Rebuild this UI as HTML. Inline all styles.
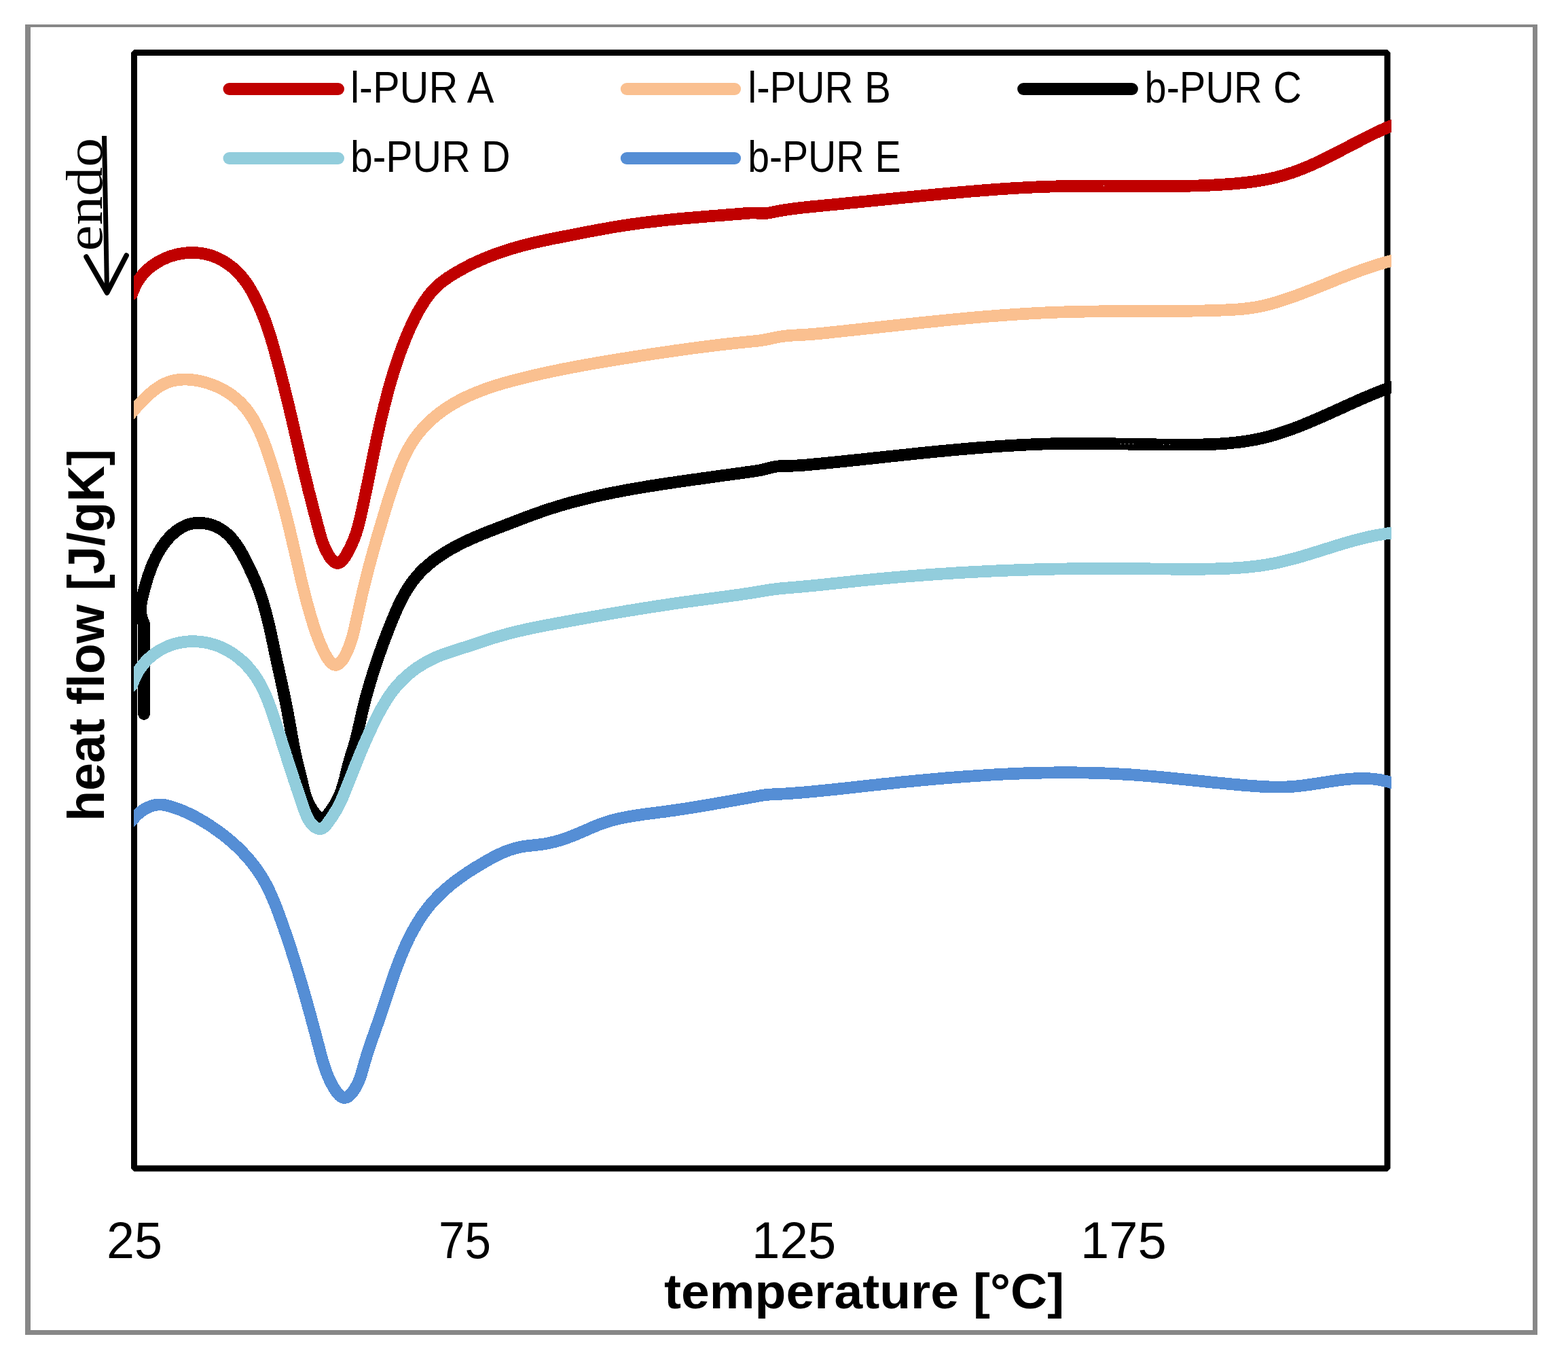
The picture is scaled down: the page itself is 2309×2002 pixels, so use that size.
<!DOCTYPE html>
<html><head><meta charset="utf-8"><title>DSC heat flow chart</title>
<style>
html,body{margin:0;padding:0;background:#fff;}
svg{display:block;}
text{font-family:'Liberation Sans', Arial, sans-serif;fill:#000;}
</style></head>
<body>
<svg xmlns="http://www.w3.org/2000/svg" width="2309" height="2002" viewBox="0 0 2309 2002">
<rect x="0" y="0" width="2309" height="2002" fill="#fff"/>
<g fill="#878787">
<rect x="37" y="36" width="2227" height="4"/>
<rect x="37" y="36" width="8" height="1929"/>
<rect x="2257" y="36" width="7" height="1929"/>
<rect x="37" y="1958" width="2227" height="7"/>
</g>
<rect x="197.5" y="77.5" width="1845.5" height="1642.5" fill="none" stroke="#000" stroke-width="9" stroke-linejoin="bevel"/>
<defs><clipPath id="plot"><rect x="197" y="60" width="1852" height="1680"/></clipPath></defs>
<g clip-path="url(#plot)" shape-rendering="crispEdges" fill="none" stroke-width="17.7" stroke-linejoin="round" stroke-linecap="round">
<path d="M193.9 433.4 L197.0 426.0 198.2 423.2 199.5 420.4 200.9 417.7 202.4 415.1 204.0 412.5 205.7 410.1 207.4 407.7 209.3 405.3 211.2 403.0 213.3 400.9 215.4 398.7 217.6 396.7 219.8 394.7 222.1 392.8 224.5 391.0 227.0 389.3 229.5 387.6 232.1 386.0 234.7 384.5 237.3 383.1 240.0 381.7 242.8 380.5 245.6 379.3 248.4 378.2 251.3 377.2 254.2 376.3 257.1 375.4 260.0 374.7 263.0 374.0 266.0 373.5 269.0 373.0 272.0 372.6 275.0 372.3 278.0 372.1 281.0 372.0 284.0 372.0 287.0 372.0 290.0 372.2 293.0 372.5 296.0 372.8 298.9 373.3 301.9 373.8 304.8 374.5 307.7 375.3 310.5 376.1 313.3 377.1 316.1 378.1 318.9 379.3 321.6 380.5 324.2 381.8 326.9 383.2 329.4 384.7 332.0 386.3 334.5 387.9 336.9 389.7 339.3 391.5 341.7 393.3 344.0 395.3 346.2 397.3 348.4 399.3 350.6 401.5 352.6 403.6 354.7 405.9 356.6 408.2 358.5 410.5 360.3 412.9 362.1 415.3 363.8 417.8 365.5 420.3 367.1 422.9 368.6 425.5 370.2 428.1 371.6 430.7 373.1 433.3 374.5 436.0 375.8 438.7 377.2 441.4 378.5 444.1 379.7 446.8 381.0 449.5 382.2 452.2 383.4 455.0 384.6 457.7 385.8 460.4 386.9 463.2 388.0 466.0 389.1 468.7 390.2 471.5 391.2 474.3 392.2 477.1 393.2 479.9 394.2 482.7 395.2 485.6 396.1 488.4 397.0 491.3 397.9 494.1 398.8 497.0 399.7 499.9 400.5 502.8 401.3 505.7 402.2 508.6 403.0 511.4 403.8 514.3 404.6 517.2 405.4 520.2 406.2 523.1 407.0 526.0 407.8 528.9 408.6 531.8 409.4 534.7 410.1 537.6 410.9 540.5 411.7 543.4 412.4 546.3 413.2 549.2 414.0 552.1 414.7 555.0 415.5 557.9 416.2 560.8 416.9 563.7 417.7 566.6 418.4 569.5 419.1 572.4 419.8 575.3 420.5 578.2 421.3 581.2 422.0 584.1 422.7 587.0 423.4 589.9 424.1 592.8 424.8 595.7 425.5 598.6 426.2 601.5 426.8 604.4 427.5 607.3 428.2 610.3 428.9 613.2 429.6 616.1 430.3 619.0 430.9 621.9 431.6 624.8 432.3 627.7 433.0 630.7 433.6 633.6 434.3 636.5 435.0 639.4 435.7 642.3 436.3 645.2 437.0 648.2 437.7 651.1 438.4 654.0 439.0 656.9 439.7 659.8 440.4 662.8 441.1 665.7 441.7 668.6 442.4 671.5 443.1 674.4 443.8 677.4 444.5 680.3 445.2 683.2 445.8 686.1 446.5 689.1 447.2 692.0 447.9 694.9 448.6 697.8 449.3 700.8 450.0 703.7 450.7 706.6 451.4 709.5 452.2 712.5 452.9 715.4 453.6 718.3 454.3 721.2 455.0 724.2 455.8 727.1 456.5 730.0 457.3 733.0 458.0 735.9 458.8 738.8 459.5 741.7 460.3 744.6 461.0 747.6 461.8 750.5 462.5 753.4 463.3 756.3 464.1 759.1 464.8 762.0 465.6 764.9 466.3 767.7 467.1 770.6 467.8 773.4 468.6 776.2 469.3 779.0 470.1 781.8 470.8 784.6 471.6 787.3 472.4 790.1 473.3 792.9 474.2 795.8 475.2 798.7 476.4 801.7 477.6 804.7 479.0 807.9 480.6 811.1 482.3 814.3 484.1 817.5 486.0 820.4 487.9 823.1 490.0 825.4 492.1 827.2 494.2 828.4 496.4 829.0 498.5 828.8 500.6 827.9 502.7 826.4 504.7 824.3 506.7 821.8 508.6 819.0 510.5 816.0 512.2 812.8 513.9 809.6 515.5 806.5 516.9 803.5 518.3 800.5 519.5 797.7 520.7 794.9 521.8 792.2 522.8 789.5 523.8 786.8 524.7 784.1 525.5 781.4 526.4 778.6 527.2 775.8 527.9 772.9 528.7 770.1 529.4 767.2 530.1 764.2 530.8 761.3 531.4 758.3 532.1 755.4 532.8 752.4 533.4 749.5 534.0 746.5 534.7 743.5 535.3 740.6 535.9 737.7 536.6 734.7 537.2 731.8 537.8 728.8 538.4 725.9 539.0 723.0 539.6 720.0 540.2 717.1 540.8 714.2 541.4 711.2 542.0 708.3 542.6 705.4 543.2 702.4 543.8 699.5 544.4 696.6 545.0 693.6 545.6 690.7 546.2 687.8 546.7 684.9 547.3 681.9 547.9 679.0 548.5 676.1 549.1 673.1 549.7 670.2 550.3 667.3 550.9 664.3 551.5 661.4 552.2 658.5 552.8 655.5 553.4 652.6 554.0 649.7 554.6 646.7 555.3 643.8 555.9 640.9 556.5 637.9 557.2 635.0 557.8 632.0 558.5 629.1 559.1 626.2 559.8 623.2 560.5 620.3 561.1 617.4 561.8 614.5 562.5 611.5 563.2 608.6 563.9 605.7 564.6 602.8 565.3 599.8 566.0 596.9 566.8 594.0 567.5 591.1 568.3 588.2 569.0 585.3 569.8 582.4 570.6 579.4 571.3 576.5 572.1 573.6 572.9 570.8 573.7 567.9 574.6 565.0 575.4 562.1 576.2 559.2 577.1 556.3 577.9 553.5 578.8 550.6 579.7 547.7 580.6 544.9 581.5 542.0 582.4 539.1 583.4 536.3 584.3 533.5 585.3 530.6 586.2 527.8 587.2 525.0 588.2 522.1 589.2 519.3 590.2 516.5 591.3 513.7 592.3 510.9 593.4 508.1 594.5 505.3 595.6 502.5 596.7 499.7 597.8 497.0 598.9 494.2 600.1 491.5 601.2 488.7 602.4 486.0 603.6 483.2 604.9 480.5 606.1 477.8 607.4 475.1 608.7 472.4 610.0 469.7 611.4 467.0 612.8 464.4 614.2 461.7 615.6 459.1 617.1 456.5 618.6 453.9 620.2 451.3 621.8 448.7 623.4 446.2 625.0 443.6 626.7 441.1 628.5 438.6 630.3 436.2 632.1 433.8 634.0 431.4 636.0 429.1 638.0 426.9 640.1 424.7 642.2 422.6 644.4 420.5 646.6 418.5 648.9 416.6 651.3 414.8 653.6 413.0 656.1 411.2 658.5 409.5 661.0 407.8 663.5 406.2 666.1 404.6 668.6 403.0 671.2 401.5 673.8 400.0 676.4 398.5 679.0 397.0 681.6 395.6 684.2 394.2 686.9 392.8 689.6 391.4 692.2 390.0 694.9 388.7 697.6 387.4 700.3 386.2 703.1 384.9 705.8 383.7 708.5 382.5 711.3 381.3 714.1 380.1 716.8 379.0 719.6 377.9 722.4 376.8 725.2 375.7 728.1 374.6 730.9 373.6 733.7 372.6 736.5 371.6 739.4 370.6 742.2 369.7 745.1 368.7 748.0 367.8 750.8 366.9 753.7 366.0 756.6 365.2 759.5 364.3 762.4 363.5 765.3 362.7 768.2 361.9 771.1 361.1 774.0 360.4 776.9 359.7 779.8 358.9 782.7 358.2 785.6 357.5 788.5 356.8 791.5 356.2 794.4 355.5 797.3 354.9 800.2 354.3 803.1 353.6 806.1 353.0 809.0 352.4 811.9 351.8 814.9 351.2 817.8 350.6 820.7 350.1 823.7 349.5 826.6 348.9 829.6 348.3 832.5 347.7 835.4 347.2 838.4 346.6 841.3 346.0 844.3 345.4 847.2 344.8 850.1 344.3 853.1 343.7 856.0 343.1 859.0 342.5 861.9 342.0 864.9 341.4 867.8 340.8 870.8 340.3 873.7 339.7 876.7 339.2 879.6 338.6 882.6 338.1 885.5 337.5 888.5 337.0 891.4 336.5 894.4 336.0 897.4 335.4 900.3 334.9 903.3 334.4 906.2 333.9 909.2 333.4 912.2 333.0 915.1 332.5 918.1 332.0 921.1 331.6 924.0 331.1 927.0 330.7 930.0 330.2 932.9 329.8 935.9 329.4 938.9 329.0 941.8 328.6 944.8 328.2 947.8 327.8 950.8 327.4 953.7 327.1 956.7 326.7 959.7 326.4 962.7 326.0 965.7 325.7 968.6 325.3 971.6 325.0 974.6 324.7 977.6 324.4 980.6 324.1 983.5 323.7 986.5 323.4 989.5 323.2 992.5 322.9 995.5 322.6 998.5 322.3 1001.4 322.0 1004.4 321.7 1007.4 321.5 1010.4 321.2 1013.4 320.9 1016.4 320.7 1019.4 320.4 1022.3 320.2 1025.3 319.9 1028.3 319.7 1031.3 319.4 1034.3 319.2 1037.3 318.9 1040.3 318.7 1043.3 318.4 1046.3 318.2 1049.2 318.0 1052.2 317.7 1055.2 317.5 1058.2 317.3 1061.2 317.0 1064.2 316.8 1067.2 316.6 1070.2 316.3 1073.2 316.1 1076.2 315.9 1079.1 315.6 1082.1 315.4 1085.1 315.1 1088.1 314.9 1091.1 314.7 1094.1 314.4 1097.1 314.2 1100.1 313.9 1103.1 313.7 1106.0 313.5 1109.0 313.4 1112.0 313.5 1115.0 313.7 1118.0 314.0 1120.9 314.2 1123.9 314.3 1126.8 314.1 1129.7 313.8 1132.7 313.3 1135.6 312.7 1138.5 312.2 1141.4 311.6 1144.4 311.1 1147.3 310.5 1150.2 310.0 1153.2 309.5 1156.1 309.0 1159.1 308.6 1162.1 308.1 1165.0 307.7 1168.0 307.3 1171.0 306.9 1173.9 306.6 1176.9 306.2 1179.9 305.8 1182.9 305.5 1185.9 305.2 1188.9 304.9 1191.8 304.6 1194.8 304.2 1197.8 303.9 1200.8 303.7 1203.8 303.4 1206.8 303.1 1209.8 302.8 1212.8 302.5 1215.8 302.2 1218.8 301.9 1221.7 301.6 1224.7 301.4 1227.7 301.1 1230.7 300.8 1233.7 300.5 1236.7 300.2 1239.7 299.9 1242.7 299.6 1245.6 299.3 1248.6 299.0 1251.6 298.7 1254.6 298.4 1257.6 298.2 1260.6 297.9 1263.5 297.6 1266.5 297.3 1269.5 297.0 1272.5 296.7 1275.5 296.4 1278.4 296.1 1281.4 295.8 1284.4 295.5 1287.4 295.2 1290.4 294.9 1293.4 294.6 1296.3 294.3 1299.3 294.0 1302.3 293.7 1305.3 293.4 1308.3 293.1 1311.2 292.8 1314.2 292.5 1317.2 292.2 1320.2 291.9 1323.2 291.6 1326.1 291.3 1329.1 291.0 1332.1 290.7 1335.1 290.5 1338.1 290.2 1341.0 289.9 1344.0 289.6 1347.0 289.3 1350.0 289.0 1353.0 288.7 1356.0 288.4 1358.9 288.1 1361.9 287.8 1364.9 287.5 1367.9 287.3 1370.9 287.0 1373.9 286.7 1376.9 286.4 1379.8 286.1 1382.8 285.9 1385.8 285.6 1388.8 285.3 1391.8 285.0 1394.8 284.7 1397.8 284.5 1400.8 284.2 1403.8 283.9 1406.8 283.7 1409.7 283.4 1412.7 283.1 1415.7 282.9 1418.7 282.6 1421.7 282.4 1424.7 282.1 1427.7 281.8 1430.7 281.6 1433.7 281.4 1436.7 281.1 1439.7 280.9 1442.7 280.6 1445.7 280.4 1448.7 280.2 1451.7 279.9 1454.7 279.7 1457.6 279.5 1460.6 279.3 1463.6 279.0 1466.6 278.8 1469.6 278.6 1472.6 278.4 1475.6 278.2 1478.6 278.0 1481.6 277.8 1484.6 277.6 1487.6 277.4 1490.6 277.2 1493.6 277.1 1496.6 276.9 1499.6 276.7 1502.6 276.5 1505.6 276.4 1508.6 276.2 1511.6 276.1 1514.6 275.9 1517.6 275.8 1520.6 275.6 1523.6 275.5 1526.6 275.3 1529.6 275.2 1532.6 275.1 1535.6 275.0 1538.6 274.9 1541.6 274.8 1544.6 274.7 1547.6 274.6 1550.6 274.5 1553.6 274.4 1556.6 274.3 1559.6 274.2 1562.6 274.2 1565.6 274.1 1568.6 274.0 1571.5 274.0 1574.5 273.9 1577.5 273.9 1580.5 273.9 1583.5 273.8 1586.5 273.8 1589.5 273.8 1592.5 273.8 1595.5 273.7 1598.5 273.7 1601.5 273.7 1604.5 273.7 1607.5 273.7 1610.5 273.7 1613.5 273.7 1616.5 273.7 1619.5 273.7 1622.5 273.7 1625.5 273.8 1628.5 273.8 1631.5 273.8 1634.5 273.8 1637.5 273.8 1640.5 273.8 1643.5 273.9 1646.4 273.9 1649.4 273.9 1652.4 273.9 1655.4 273.9 1658.4 274.0 1661.4 274.0 1664.4 274.0 1667.4 274.0 1670.4 274.0 1673.4 274.1 1676.4 274.1 1679.4 274.1 1682.4 274.1 1685.4 274.1 1688.4 274.1 1691.4 274.2 1694.4 274.2 1697.4 274.2 1700.4 274.2 1703.4 274.2 1706.4 274.2 1709.4 274.2 1712.4 274.2 1715.4 274.1 1718.4 274.1 1721.4 274.1 1724.4 274.1 1727.4 274.1 1730.4 274.0 1733.4 274.0 1736.4 274.0 1739.4 273.9 1742.4 273.9 1745.4 273.8 1748.4 273.7 1751.4 273.7 1754.4 273.6 1757.4 273.5 1760.4 273.4 1763.4 273.4 1766.4 273.3 1769.4 273.2 1772.4 273.0 1775.4 272.9 1778.4 272.8 1781.4 272.7 1784.4 272.5 1787.4 272.4 1790.4 272.2 1793.4 272.1 1796.4 271.9 1799.4 271.7 1802.4 271.5 1805.5 271.3 1808.5 271.1 1811.5 270.9 1814.5 270.7 1817.5 270.4 1820.5 270.2 1823.5 269.9 1826.5 269.6 1829.4 269.3 1832.4 269.0 1835.4 268.6 1838.4 268.2 1841.4 267.9 1844.4 267.5 1847.3 267.1 1850.3 266.6 1853.2 266.1 1856.2 265.7 1859.1 265.2 1862.1 264.6 1865.0 264.1 1868.0 263.5 1870.9 262.9 1873.8 262.2 1876.7 261.6 1879.6 260.9 1882.5 260.1 1885.4 259.4 1888.2 258.6 1891.1 257.8 1894.0 256.9 1896.8 256.0 1899.6 255.1 1902.5 254.2 1905.3 253.2 1908.1 252.2 1910.9 251.2 1913.7 250.1 1916.5 249.0 1919.3 247.9 1922.0 246.8 1924.8 245.6 1927.5 244.5 1930.3 243.3 1933.0 242.0 1935.8 240.8 1938.5 239.6 1941.2 238.3 1944.0 237.0 1946.7 235.7 1949.4 234.4 1952.1 233.1 1954.8 231.7 1957.5 230.4 1960.2 229.0 1962.9 227.7 1965.6 226.3 1968.3 224.9 1971.0 223.5 1973.7 222.1 1976.3 220.7 1979.0 219.3 1981.7 217.9 1984.4 216.5 1987.1 215.1 1989.7 213.7 1992.4 212.3 1995.1 210.9 1997.8 209.5 2000.4 208.2 2003.1 206.8 2005.8 205.4 2008.5 204.0 2011.2 202.7 2013.8 201.3 2016.5 200.0 2019.2 198.7 2021.9 197.3 2024.6 196.0 2027.3 194.8 2030.0 193.5 2032.7 192.2 2035.4 191.0 2038.1 189.8 2040.8 188.6 2043.5 187.4 2046.2 186.3 2049.0 185.1 2056.4 182.1" stroke="#C00000"/>
<path d="M191.8 610.0 L197.1 604.0 198.9 601.9 200.8 599.7 202.8 597.6 204.8 595.4 206.8 593.2 208.9 591.0 211.0 588.8 213.2 586.6 215.4 584.5 217.6 582.3 219.9 580.3 222.2 578.3 224.6 576.3 227.0 574.4 229.5 572.6 232.0 570.8 234.5 569.2 237.1 567.6 239.7 566.2 242.4 564.8 245.1 563.6 247.8 562.5 250.6 561.6 253.4 560.8 256.2 560.1 259.1 559.6 262.0 559.2 265.0 558.9 267.9 558.7 270.9 558.6 273.9 558.6 276.9 558.7 279.9 558.9 282.8 559.2 285.8 559.5 288.8 560.0 291.8 560.5 294.8 561.1 297.8 561.8 300.7 562.5 303.7 563.3 306.6 564.2 309.5 565.2 312.3 566.2 315.2 567.3 318.0 568.5 320.8 569.7 323.5 571.0 326.3 572.4 328.9 573.8 331.6 575.3 334.2 576.9 336.7 578.5 339.2 580.2 341.7 581.9 344.1 583.7 346.4 585.6 348.7 587.5 350.9 589.5 353.1 591.5 355.2 593.6 357.2 595.7 359.2 597.9 361.1 600.2 362.9 602.4 364.7 604.8 366.5 607.1 368.1 609.5 369.8 612.0 371.4 614.5 372.9 617.0 374.4 619.5 375.8 622.1 377.2 624.8 378.6 627.4 379.9 630.1 381.2 632.8 382.5 635.5 383.7 638.3 384.9 641.0 386.1 643.8 387.2 646.6 388.3 649.5 389.4 652.3 390.4 655.2 391.5 658.0 392.5 660.9 393.5 663.8 394.5 666.6 395.4 669.5 396.4 672.4 397.3 675.3 398.3 678.2 399.2 681.1 400.1 684.0 401.0 686.8 401.9 689.7 402.8 692.6 403.7 695.5 404.6 698.3 405.4 701.2 406.3 704.1 407.1 707.0 408.0 709.8 408.8 712.7 409.7 715.6 410.5 718.5 411.3 721.3 412.1 724.2 412.9 727.1 413.7 730.0 414.5 732.8 415.3 735.7 416.0 738.6 416.8 741.5 417.6 744.3 418.3 747.2 419.1 750.1 419.8 753.0 420.6 755.9 421.3 758.8 422.0 761.6 422.8 764.5 423.5 767.4 424.2 770.3 424.9 773.2 425.6 776.1 426.3 779.0 427.0 781.9 427.7 784.8 428.4 787.7 429.1 790.6 429.8 793.6 430.5 796.5 431.1 799.4 431.8 802.3 432.5 805.2 433.2 808.2 433.8 811.1 434.5 814.0 435.2 817.0 435.8 819.9 436.5 822.8 437.2 825.8 437.8 828.7 438.5 831.7 439.2 834.6 439.9 837.5 440.6 840.5 441.2 843.4 441.9 846.4 442.6 849.3 443.3 852.2 444.0 855.2 444.7 858.1 445.4 861.1 446.1 864.0 446.9 866.9 447.6 869.9 448.3 872.8 449.1 875.7 449.8 878.7 450.6 881.6 451.3 884.5 452.1 887.4 452.9 890.3 453.7 893.2 454.5 896.1 455.3 898.9 456.1 901.8 456.9 904.6 457.7 907.5 458.6 910.3 459.4 913.1 460.3 915.8 461.1 918.6 462.0 921.3 462.9 924.1 463.8 926.8 464.7 929.5 465.7 932.3 466.7 935.1 467.8 938.0 468.9 940.9 470.1 944.0 471.4 947.1 472.8 950.4 474.3 953.7 475.8 957.1 477.5 960.4 479.2 963.6 480.9 966.7 482.7 969.6 484.6 972.1 486.4 974.4 488.3 976.3 490.3 977.7 492.2 978.6 494.1 979.0 496.1 978.7 498.0 977.9 499.9 976.5 501.8 974.7 503.6 972.5 505.4 969.9 507.1 967.1 508.8 964.0 510.4 960.7 511.9 957.4 513.3 954.0 514.6 950.6 515.9 947.3 516.9 944.0 517.9 940.9 518.8 937.9 519.7 935.0 520.4 932.1 521.1 929.2 521.8 926.4 522.4 923.6 523.0 920.8 523.7 918.0 524.3 915.1 524.9 912.3 525.5 909.4 526.2 906.6 526.8 903.7 527.5 900.8 528.1 897.9 528.7 894.9 529.4 892.0 530.0 889.1 530.7 886.2 531.4 883.2 532.0 880.3 532.7 877.3 533.4 874.4 534.1 871.5 534.8 868.5 535.5 865.6 536.2 862.6 536.9 859.7 537.6 856.8 538.3 853.9 539.1 850.9 539.8 848.0 540.6 845.1 541.3 842.2 542.1 839.3 542.8 836.4 543.6 833.4 544.4 830.5 545.2 827.6 545.9 824.7 546.7 821.8 547.5 818.9 548.3 816.1 549.1 813.2 549.9 810.3 550.8 807.4 551.6 804.5 552.4 801.6 553.2 798.7 554.0 795.9 554.9 793.0 555.7 790.1 556.5 787.2 557.4 784.3 558.2 781.5 559.1 778.6 559.9 775.7 560.8 772.9 561.6 770.0 562.5 767.1 563.3 764.3 564.2 761.4 565.1 758.5 565.9 755.7 566.8 752.8 567.6 750.0 568.5 747.1 569.4 744.2 570.3 741.4 571.1 738.5 572.0 735.7 572.9 732.8 573.8 730.0 574.7 727.1 575.6 724.3 576.6 721.4 577.5 718.6 578.5 715.7 579.4 712.9 580.4 710.1 581.4 707.2 582.4 704.4 583.4 701.6 584.5 698.7 585.5 695.9 586.6 693.1 587.7 690.3 588.8 687.5 589.9 684.7 591.1 681.9 592.3 679.1 593.5 676.4 594.8 673.6 596.1 670.9 597.4 668.2 598.7 665.5 600.1 662.8 601.6 660.2 603.1 657.6 604.6 655.0 606.1 652.4 607.7 649.9 609.4 647.4 611.1 644.9 612.9 642.5 614.7 640.1 616.5 637.8 618.4 635.4 620.4 633.1 622.4 630.9 624.4 628.7 626.4 626.5 628.5 624.4 630.7 622.2 632.9 620.2 635.1 618.1 637.3 616.1 639.6 614.2 641.9 612.3 644.2 610.4 646.6 608.5 649.0 606.7 651.4 605.0 653.8 603.2 656.3 601.5 658.7 599.9 661.3 598.3 663.8 596.7 666.3 595.1 668.9 593.6 671.5 592.2 674.1 590.7 676.7 589.3 679.3 587.9 682.0 586.6 684.7 585.3 687.3 584.0 690.1 582.7 692.8 581.5 695.5 580.3 698.3 579.1 701.0 578.0 703.8 576.9 706.6 575.8 709.4 574.7 712.2 573.7 715.0 572.6 717.8 571.6 720.7 570.7 723.5 569.7 726.4 568.8 729.3 567.8 732.1 566.9 735.0 566.1 737.9 565.2 740.8 564.3 743.7 563.5 746.6 562.7 749.5 561.9 752.4 561.1 755.4 560.3 758.3 559.5 761.2 558.8 764.1 558.0 767.0 557.3 770.0 556.5 772.9 555.8 775.8 555.1 778.7 554.4 781.7 553.7 784.6 553.0 787.5 552.3 790.5 551.7 793.4 551.0 796.3 550.3 799.2 549.7 802.2 549.0 805.1 548.4 808.0 547.8 811.0 547.1 813.9 546.5 816.8 545.9 819.7 545.3 822.7 544.7 825.6 544.1 828.5 543.5 831.5 542.9 834.4 542.4 837.3 541.8 840.3 541.2 843.2 540.7 846.2 540.1 849.1 539.6 852.0 539.0 855.0 538.5 857.9 537.9 860.8 537.4 863.8 536.9 866.7 536.3 869.7 535.8 872.6 535.3 875.6 534.8 878.5 534.3 881.4 533.8 884.4 533.3 887.3 532.8 890.3 532.3 893.2 531.8 896.2 531.3 899.1 530.8 902.1 530.3 905.0 529.9 908.0 529.4 910.9 528.9 913.9 528.4 916.9 527.9 919.8 527.5 922.8 527.0 925.7 526.5 928.7 526.1 931.7 525.6 934.6 525.1 937.6 524.7 940.5 524.2 943.5 523.7 946.5 523.3 949.4 522.8 952.4 522.4 955.4 521.9 958.3 521.5 961.3 521.0 964.3 520.6 967.3 520.1 970.2 519.7 973.2 519.2 976.2 518.8 979.1 518.4 982.1 517.9 985.1 517.5 988.1 517.1 991.0 516.7 994.0 516.2 997.0 515.8 1000.0 515.4 1002.9 515.0 1005.9 514.6 1008.9 514.2 1011.9 513.7 1014.9 513.3 1017.8 512.9 1020.8 512.5 1023.8 512.2 1026.8 511.8 1029.7 511.4 1032.7 511.0 1035.7 510.6 1038.7 510.2 1041.7 509.9 1044.6 509.5 1047.6 509.1 1050.6 508.8 1053.6 508.4 1056.5 508.0 1059.5 507.7 1062.5 507.3 1065.5 507.0 1068.4 506.7 1071.4 506.3 1074.4 506.0 1077.4 505.7 1080.3 505.3 1083.3 505.0 1086.3 504.7 1089.3 504.4 1092.2 504.1 1095.2 503.8 1098.2 503.5 1101.2 503.2 1104.1 502.9 1107.1 502.6 1110.1 502.3 1113.0 502.0 1116.0 501.7 1118.9 501.3 1121.9 500.9 1124.8 500.4 1127.7 499.9 1130.6 499.3 1133.5 498.7 1136.4 498.0 1139.3 497.4 1142.2 496.8 1145.2 496.2 1148.1 495.7 1151.0 495.3 1154.0 494.9 1156.9 494.5 1159.9 494.2 1162.9 494.0 1165.8 493.7 1168.8 493.6 1171.8 493.4 1174.8 493.3 1177.8 493.1 1180.8 493.0 1183.8 492.8 1186.8 492.6 1189.8 492.4 1192.8 492.2 1195.8 492.0 1198.8 491.7 1201.8 491.4 1204.7 491.2 1207.7 490.9 1210.7 490.6 1213.7 490.3 1216.7 490.0 1219.6 489.7 1222.6 489.3 1225.6 489.0 1228.6 488.7 1231.6 488.4 1234.5 488.1 1237.5 487.8 1240.5 487.5 1243.5 487.2 1246.5 486.8 1249.4 486.5 1252.4 486.2 1255.4 485.9 1258.4 485.6 1261.4 485.3 1264.3 484.9 1267.3 484.6 1270.3 484.3 1273.3 484.0 1276.3 483.6 1279.2 483.3 1282.2 483.0 1285.2 482.7 1288.2 482.4 1291.2 482.0 1294.2 481.7 1297.1 481.4 1300.1 481.1 1303.1 480.7 1306.1 480.4 1309.1 480.1 1312.0 479.8 1315.0 479.4 1318.0 479.1 1321.0 478.8 1324.0 478.5 1327.0 478.2 1329.9 477.8 1332.9 477.5 1335.9 477.2 1338.9 476.9 1341.9 476.6 1344.9 476.3 1347.8 475.9 1350.8 475.6 1353.8 475.3 1356.8 475.0 1359.8 474.7 1362.8 474.4 1365.7 474.1 1368.7 473.8 1371.7 473.5 1374.7 473.2 1377.7 472.9 1380.7 472.6 1383.7 472.3 1386.6 472.0 1389.6 471.7 1392.6 471.4 1395.6 471.1 1398.6 470.8 1401.6 470.5 1404.6 470.2 1407.5 469.9 1410.5 469.7 1413.5 469.4 1416.5 469.1 1419.5 468.8 1422.5 468.6 1425.5 468.3 1428.5 468.0 1431.4 467.8 1434.4 467.5 1437.4 467.2 1440.4 467.0 1443.4 466.7 1446.4 466.5 1449.4 466.2 1452.4 466.0 1455.3 465.7 1458.3 465.5 1461.3 465.3 1464.3 465.0 1467.3 464.8 1470.3 464.6 1473.3 464.3 1476.3 464.1 1479.3 463.9 1482.3 463.7 1485.2 463.5 1488.2 463.3 1491.2 463.1 1494.2 462.9 1497.2 462.7 1500.2 462.5 1503.2 462.3 1506.2 462.1 1509.2 461.9 1512.2 461.8 1515.2 461.6 1518.2 461.4 1521.1 461.3 1524.1 461.1 1527.1 460.9 1530.1 460.8 1533.1 460.6 1536.1 460.5 1539.1 460.4 1542.1 460.2 1545.1 460.1 1548.1 460.0 1551.1 459.9 1554.1 459.8 1557.1 459.6 1560.1 459.5 1563.1 459.4 1566.1 459.4 1569.1 459.3 1572.0 459.2 1575.0 459.1 1578.0 459.0 1581.0 458.9 1584.0 458.9 1587.0 458.8 1590.0 458.8 1593.0 458.7 1596.0 458.7 1599.0 458.6 1602.0 458.6 1605.0 458.5 1608.0 458.5 1611.0 458.4 1614.0 458.4 1617.0 458.4 1620.0 458.3 1623.0 458.3 1626.0 458.3 1629.0 458.3 1632.0 458.3 1635.0 458.2 1638.0 458.2 1641.0 458.2 1644.0 458.2 1647.0 458.2 1650.0 458.2 1653.0 458.2 1656.0 458.2 1659.0 458.2 1662.0 458.2 1665.0 458.1 1668.0 458.1 1671.0 458.1 1674.0 458.1 1677.0 458.1 1680.0 458.1 1683.0 458.1 1686.0 458.1 1689.0 458.1 1692.0 458.1 1695.0 458.1 1698.0 458.1 1701.0 458.1 1704.0 458.1 1707.0 458.1 1710.0 458.1 1713.0 458.1 1716.0 458.0 1719.0 458.0 1722.0 458.0 1725.0 458.0 1728.0 458.0 1731.0 458.0 1734.0 457.9 1737.0 457.9 1740.0 457.9 1743.0 457.8 1746.0 457.8 1749.0 457.8 1752.0 457.7 1755.0 457.7 1758.0 457.6 1761.0 457.6 1764.0 457.5 1767.0 457.5 1770.0 457.4 1773.0 457.4 1776.0 457.3 1779.0 457.2 1782.0 457.1 1785.0 457.1 1788.0 457.0 1791.0 456.9 1794.0 456.8 1796.9 456.7 1799.9 456.6 1802.9 456.5 1805.9 456.3 1808.9 456.2 1811.9 456.1 1814.9 455.9 1817.9 455.7 1820.9 455.5 1823.9 455.3 1826.9 455.0 1829.8 454.8 1832.8 454.5 1835.8 454.1 1838.8 453.8 1841.7 453.4 1844.7 452.9 1847.6 452.5 1850.6 452.0 1853.5 451.4 1856.5 450.8 1859.4 450.2 1862.3 449.6 1865.3 448.9 1868.2 448.1 1871.1 447.3 1874.0 446.5 1876.9 445.7 1879.8 444.9 1882.7 444.0 1885.5 443.1 1888.4 442.2 1891.3 441.2 1894.1 440.3 1897.0 439.3 1899.8 438.3 1902.7 437.3 1905.5 436.3 1908.3 435.3 1911.1 434.3 1913.9 433.2 1916.8 432.2 1919.6 431.1 1922.4 430.0 1925.2 428.9 1928.0 427.9 1930.8 426.8 1933.5 425.7 1936.3 424.6 1939.1 423.4 1941.9 422.3 1944.7 421.2 1947.5 420.1 1950.2 419.0 1953.0 417.8 1955.8 416.7 1958.6 415.6 1961.3 414.5 1964.1 413.4 1966.9 412.2 1969.7 411.1 1972.4 410.0 1975.2 408.9 1978.0 407.8 1980.8 406.7 1983.6 405.6 1986.4 404.5 1989.2 403.5 1992.0 402.4 1994.8 401.3 1997.6 400.3 2000.4 399.3 2003.2 398.2 2006.0 397.2 2008.8 396.2 2011.6 395.2 2014.5 394.2 2017.3 393.3 2020.2 392.3 2023.0 391.4 2025.9 390.5 2028.7 389.6 2031.6 388.7 2034.5 387.9 2037.4 387.0 2040.3 386.2 2043.2 385.4 2046.1 384.6 2049.0 383.9 2056.7 381.8" stroke="#FAC090"/>
<path d="M212.0 1051.0 L212.0 918.0 L210.6 915.1 209.5 912.1 208.7 909.2 208.0 906.3 207.5 903.3 207.3 900.4 207.2 897.4 207.2 894.5 207.5 891.5 207.8 888.6 208.2 885.6 208.8 882.7 209.4 879.8 210.1 876.8 210.8 873.9 211.6 871.0 212.4 868.1 213.2 865.2 214.0 862.3 214.8 859.4 215.7 856.5 216.5 853.7 217.4 850.8 218.3 848.0 219.3 845.1 220.3 842.3 221.3 839.5 222.3 836.7 223.4 833.9 224.5 831.2 225.7 828.4 226.9 825.7 228.2 823.0 229.5 820.3 230.9 817.6 232.3 814.9 233.8 812.3 235.4 809.7 237.0 807.1 238.7 804.5 240.5 802.0 242.3 799.5 244.1 797.1 246.1 794.8 248.1 792.5 250.1 790.2 252.3 788.1 254.5 786.0 256.7 784.0 259.0 782.2 261.4 780.4 263.8 778.7 266.3 777.2 268.8 775.8 271.4 774.5 274.1 773.3 276.8 772.3 279.5 771.5 282.4 770.8 285.2 770.2 288.2 769.9 291.1 769.7 294.2 769.7 297.3 769.9 300.3 770.2 303.4 770.7 306.5 771.3 309.6 772.1 312.6 773.1 315.5 774.1 318.4 775.3 321.1 776.7 323.8 778.1 326.3 779.7 328.8 781.3 331.2 783.1 333.4 785.0 335.6 786.9 337.7 788.9 339.8 791.1 341.7 793.3 343.6 795.5 345.4 797.9 347.2 800.2 348.9 802.7 350.6 805.2 352.2 807.7 353.7 810.3 355.2 812.9 356.7 815.6 358.2 818.2 359.6 820.9 361.0 823.6 362.4 826.3 363.7 829.0 365.1 831.7 366.4 834.4 367.7 837.1 369.0 839.8 370.3 842.6 371.6 845.3 372.8 848.0 374.0 850.7 375.2 853.4 376.4 856.2 377.5 858.9 378.6 861.7 379.7 864.5 380.8 867.3 381.8 870.1 382.8 872.9 383.8 875.7 384.7 878.5 385.6 881.4 386.5 884.2 387.4 887.1 388.3 889.9 389.1 892.8 389.9 895.7 390.7 898.5 391.5 901.4 392.3 904.3 393.0 907.2 393.7 910.1 394.5 913.0 395.2 916.0 395.9 918.9 396.5 921.8 397.2 924.7 397.9 927.7 398.5 930.6 399.2 933.5 399.8 936.5 400.4 939.4 401.1 942.4 401.7 945.3 402.3 948.2 402.9 951.2 403.6 954.1 404.2 957.1 404.8 960.0 405.4 963.0 406.1 965.9 406.7 968.8 407.3 971.8 407.9 974.7 408.6 977.6 409.2 980.6 409.9 983.5 410.5 986.4 411.1 989.3 411.8 992.3 412.4 995.2 413.1 998.1 413.7 1001.0 414.4 1004.0 415.0 1006.9 415.6 1009.8 416.3 1012.7 416.9 1015.7 417.5 1018.6 418.1 1021.5 418.7 1024.4 419.3 1027.4 419.9 1030.3 420.5 1033.2 421.1 1036.2 421.7 1039.1 422.3 1042.0 422.9 1045.0 423.4 1047.9 424.0 1050.8 424.5 1053.8 425.1 1056.7 425.6 1059.7 426.1 1062.6 426.6 1065.6 427.2 1068.5 427.7 1071.5 428.2 1074.4 428.7 1077.4 429.3 1080.3 429.8 1083.3 430.3 1086.2 430.9 1089.2 431.4 1092.1 432.0 1095.1 432.5 1098.0 433.1 1101.0 433.7 1103.9 434.3 1106.9 434.9 1109.8 435.6 1112.8 436.2 1115.7 436.9 1118.6 437.6 1121.6 438.3 1124.5 439.0 1127.4 439.7 1130.4 440.5 1133.3 441.2 1136.2 441.9 1139.1 442.6 1141.9 443.3 1144.8 444.0 1147.6 444.7 1150.5 445.3 1153.3 445.9 1156.1 446.6 1158.9 447.3 1161.7 448.0 1164.5 448.8 1167.3 449.6 1170.2 450.6 1173.1 451.7 1176.0 452.9 1179.0 454.3 1182.1 455.9 1185.3 457.6 1188.4 459.5 1191.6 461.5 1194.6 463.7 1197.3 465.9 1199.7 468.2 1201.7 470.5 1203.1 472.8 1204.0 475.1 1204.0 477.4 1203.3 479.7 1201.9 481.8 1199.9 484.0 1197.5 486.0 1194.9 487.9 1192.2 489.8 1189.5 491.5 1186.9 493.1 1184.2 494.7 1181.6 496.1 1178.9 497.5 1176.3 498.8 1173.6 500.0 1170.8 501.1 1168.1 502.2 1165.3 503.2 1162.5 504.1 1159.6 505.0 1156.8 505.8 1153.9 506.6 1151.1 507.4 1148.2 508.2 1145.3 508.9 1142.4 509.6 1139.5 510.3 1136.6 511.1 1133.7 511.8 1130.8 512.5 1127.9 513.2 1125.0 514.0 1122.1 514.8 1119.2 515.6 1116.3 516.5 1113.5 517.4 1110.6 518.3 1107.8 519.2 1104.9 520.2 1102.1 521.1 1099.2 521.9 1096.3 522.7 1093.4 523.5 1090.6 524.3 1087.6 525.0 1084.7 525.7 1081.8 526.4 1078.9 527.1 1076.0 527.8 1073.0 528.4 1070.1 529.1 1067.1 529.8 1064.2 530.4 1061.3 531.1 1058.3 531.7 1055.4 532.4 1052.5 533.1 1049.5 533.8 1046.6 534.5 1043.7 535.2 1040.8 535.9 1037.9 536.7 1035.0 537.4 1032.1 538.2 1029.2 538.9 1026.3 539.7 1023.4 540.5 1020.5 541.3 1017.6 542.1 1014.8 542.9 1011.9 543.8 1009.0 544.6 1006.2 545.5 1003.3 546.3 1000.4 547.2 997.6 548.1 994.7 549.0 991.9 549.9 989.0 550.8 986.2 551.7 983.4 552.6 980.5 553.5 977.7 554.5 974.8 555.4 972.0 556.4 969.2 557.4 966.4 558.4 963.5 559.4 960.7 560.4 957.9 561.4 955.1 562.4 952.3 563.4 949.4 564.4 946.6 565.5 943.8 566.5 941.0 567.6 938.2 568.7 935.4 569.8 932.6 570.8 929.8 571.9 927.0 573.0 924.2 574.1 921.3 575.3 918.5 576.4 915.7 577.5 912.9 578.7 910.1 579.9 907.4 581.0 904.6 582.2 901.8 583.4 899.0 584.7 896.3 585.9 893.5 587.2 890.8 588.5 888.1 589.8 885.4 591.2 882.7 592.6 880.1 594.0 877.4 595.4 874.8 596.9 872.2 598.5 869.7 600.0 867.1 601.6 864.6 603.2 862.1 604.9 859.7 606.6 857.3 608.4 854.9 610.2 852.6 612.1 850.3 614.0 848.0 615.9 845.8 617.9 843.6 620.0 841.4 622.1 839.3 624.2 837.2 626.4 835.2 628.6 833.2 630.9 831.2 633.2 829.3 635.5 827.4 637.9 825.5 640.3 823.7 642.7 821.9 645.2 820.2 647.7 818.4 650.2 816.8 652.8 815.1 655.3 813.5 657.9 811.9 660.5 810.3 663.1 808.8 665.8 807.3 668.4 805.8 671.1 804.4 673.8 803.0 676.4 801.6 679.1 800.2 681.8 798.9 684.5 797.6 687.3 796.3 690.0 795.0 692.7 793.8 695.4 792.6 698.2 791.4 700.9 790.2 703.7 789.0 706.4 787.9 709.2 786.7 711.9 785.6 714.7 784.5 717.5 783.4 720.2 782.3 723.0 781.2 725.8 780.1 728.6 779.1 731.4 778.0 734.2 776.9 736.9 775.9 739.7 774.8 742.5 773.7 745.3 772.7 748.1 771.6 750.9 770.5 753.7 769.4 756.5 768.4 759.3 767.3 762.1 766.2 764.9 765.1 767.7 764.1 770.5 763.0 773.3 761.9 776.2 760.9 779.0 759.8 781.8 758.8 784.6 757.7 787.4 756.7 790.3 755.7 793.1 754.7 795.9 753.7 798.8 752.7 801.6 751.7 804.4 750.8 807.3 749.8 810.1 748.9 813.0 748.0 815.8 747.1 818.7 746.2 821.6 745.3 824.4 744.5 827.3 743.6 830.2 742.8 833.1 741.9 835.9 741.1 838.8 740.3 841.7 739.5 844.6 738.7 847.5 738.0 850.4 737.2 853.3 736.5 856.2 735.7 859.1 735.0 862.0 734.3 864.9 733.6 867.8 732.9 870.7 732.2 873.7 731.5 876.6 730.8 879.5 730.2 882.4 729.5 885.4 728.9 888.3 728.3 891.2 727.6 894.1 727.0 897.1 726.4 900.0 725.8 902.9 725.2 905.9 724.6 908.8 724.1 911.8 723.5 914.7 722.9 917.7 722.4 920.6 721.8 923.6 721.3 926.5 720.7 929.5 720.2 932.4 719.7 935.4 719.2 938.3 718.7 941.3 718.2 944.2 717.7 947.2 717.2 950.2 716.7 953.1 716.2 956.1 715.7 959.0 715.2 962.0 714.8 965.0 714.3 967.9 713.8 970.9 713.4 973.9 712.9 976.8 712.5 979.8 712.0 982.8 711.6 985.7 711.1 988.7 710.7 991.7 710.3 994.6 709.8 997.6 709.4 1000.6 709.0 1003.5 708.5 1006.5 708.1 1009.5 707.7 1012.5 707.3 1015.4 706.8 1018.4 706.4 1021.4 706.0 1024.3 705.6 1027.3 705.2 1030.3 704.8 1033.2 704.3 1036.2 703.9 1039.2 703.5 1042.1 703.1 1045.1 702.7 1048.0 702.3 1051.0 701.9 1054.0 701.4 1056.9 701.0 1059.9 700.6 1062.9 700.2 1065.8 699.8 1068.8 699.4 1071.8 699.0 1074.7 698.6 1077.7 698.2 1080.7 697.8 1083.6 697.4 1086.6 697.0 1089.6 696.6 1092.5 696.2 1095.5 695.8 1098.5 695.3 1101.5 694.9 1104.4 694.5 1107.4 694.1 1110.4 693.7 1113.3 693.2 1116.3 692.7 1119.2 692.2 1122.2 691.6 1125.1 690.9 1128.0 690.2 1130.9 689.4 1133.8 688.7 1136.7 688.0 1139.6 687.3 1142.6 686.8 1145.5 686.4 1148.5 686.1 1151.5 686.0 1154.5 685.9 1157.5 685.9 1160.5 685.8 1163.5 685.8 1166.5 685.7 1169.5 685.6 1172.5 685.5 1175.5 685.3 1178.5 685.1 1181.5 684.9 1184.5 684.7 1187.5 684.4 1190.4 684.2 1193.4 683.9 1196.4 683.6 1199.4 683.3 1202.3 683.0 1205.3 682.8 1208.3 682.5 1211.3 682.2 1214.3 681.9 1217.2 681.6 1220.2 681.3 1223.2 681.0 1226.2 680.7 1229.1 680.4 1232.1 680.1 1235.1 679.8 1238.1 679.5 1241.0 679.2 1244.0 678.9 1247.0 678.6 1250.0 678.2 1253.0 677.9 1255.9 677.6 1258.9 677.3 1261.9 677.0 1264.9 676.7 1267.9 676.4 1270.9 676.0 1273.8 675.7 1276.8 675.4 1279.8 675.1 1282.8 674.8 1285.8 674.5 1288.7 674.1 1291.7 673.8 1294.7 673.5 1297.7 673.2 1300.7 672.9 1303.7 672.5 1306.6 672.2 1309.6 671.9 1312.6 671.6 1315.6 671.3 1318.6 671.0 1321.6 670.6 1324.6 670.3 1327.5 670.0 1330.5 669.7 1333.5 669.4 1336.5 669.1 1339.5 668.8 1342.5 668.4 1345.5 668.1 1348.4 667.8 1351.4 667.5 1354.4 667.2 1357.4 666.9 1360.4 666.6 1363.4 666.3 1366.4 666.0 1369.4 665.7 1372.3 665.4 1375.3 665.1 1378.3 664.8 1381.3 664.5 1384.3 664.2 1387.3 663.9 1390.3 663.7 1393.3 663.4 1396.2 663.1 1399.2 662.8 1402.2 662.5 1405.2 662.3 1408.2 662.0 1411.2 661.7 1414.2 661.5 1417.2 661.2 1420.2 660.9 1423.2 660.7 1426.1 660.4 1429.1 660.2 1432.1 659.9 1435.1 659.7 1438.1 659.4 1441.1 659.2 1444.1 659.0 1447.1 658.7 1450.1 658.5 1453.1 658.3 1456.0 658.0 1459.0 657.8 1462.0 657.6 1465.0 657.4 1468.0 657.2 1471.0 657.0 1474.0 656.8 1477.0 656.6 1480.0 656.4 1483.0 656.2 1486.0 656.0 1489.0 655.9 1491.9 655.7 1494.9 655.5 1497.9 655.3 1500.9 655.2 1503.9 655.0 1506.9 654.9 1509.9 654.7 1512.9 654.6 1515.9 654.5 1518.9 654.3 1521.9 654.2 1524.9 654.1 1527.8 654.0 1530.8 653.8 1533.8 653.7 1536.8 653.6 1539.8 653.5 1542.8 653.5 1545.8 653.4 1548.8 653.3 1551.8 653.2 1554.8 653.2 1557.8 653.1 1560.8 653.0 1563.7 653.0 1566.7 653.0 1569.7 652.9 1572.7 652.9 1575.7 652.9 1578.7 652.8 1581.7 652.8 1584.7 652.8 1587.7 652.8 1590.7 652.8 1593.7 652.8 1596.7 652.8 1599.7 652.8 1602.6 652.8 1605.6 652.9 1608.6 652.9 1611.6 652.9 1614.6 652.9 1617.6 653.0 1620.6 653.0 1623.6 653.0 1626.6 653.1 1629.6 653.1 1632.6 653.2 1635.6 653.2 1638.6 653.3 1641.6 653.3 1644.6 653.4 1647.6 653.4 1650.5 653.5 1653.5 653.5 1656.5 653.6 1659.5 653.6 1662.5 653.7 1665.5 653.7 1668.5 653.8 1671.5 653.8 1674.5 653.9 1677.5 653.9 1680.5 654.0 1683.5 654.0 1686.5 654.1 1689.5 654.1 1692.5 654.2 1695.5 654.2 1698.5 654.3 1701.5 654.3 1704.5 654.4 1707.5 654.4 1710.5 654.4 1713.5 654.5 1716.5 654.5 1719.5 654.5 1722.5 654.6 1725.5 654.6 1728.6 654.6 1731.6 654.6 1734.6 654.6 1737.6 654.6 1740.6 654.6 1743.6 654.6 1746.6 654.6 1749.6 654.6 1752.6 654.6 1755.6 654.6 1758.6 654.6 1761.7 654.5 1764.7 654.5 1767.7 654.4 1770.7 654.4 1773.7 654.3 1776.7 654.2 1779.7 654.1 1782.7 654.0 1785.7 653.9 1788.7 653.8 1791.7 653.6 1794.7 653.5 1797.7 653.3 1800.7 653.1 1803.7 652.9 1806.7 652.6 1809.6 652.4 1812.6 652.1 1815.6 651.8 1818.6 651.5 1821.5 651.2 1824.5 650.9 1827.5 650.5 1830.4 650.1 1833.4 649.7 1836.3 649.2 1839.2 648.7 1842.2 648.2 1845.1 647.7 1848.0 647.2 1850.9 646.6 1853.8 646.0 1856.7 645.3 1859.6 644.7 1862.5 644.0 1865.4 643.2 1868.3 642.5 1871.2 641.7 1874.0 640.9 1876.9 640.1 1879.8 639.2 1882.6 638.4 1885.5 637.5 1888.3 636.5 1891.1 635.6 1894.0 634.6 1896.8 633.6 1899.6 632.6 1902.4 631.6 1905.3 630.6 1908.1 629.5 1910.9 628.5 1913.7 627.4 1916.5 626.3 1919.3 625.2 1922.1 624.0 1924.9 622.9 1927.7 621.7 1930.4 620.6 1933.2 619.4 1936.0 618.2 1938.8 617.0 1941.5 615.8 1944.3 614.6 1947.1 613.4 1949.8 612.2 1952.6 610.9 1955.4 609.7 1958.1 608.5 1960.9 607.2 1963.6 606.0 1966.4 604.7 1969.1 603.5 1971.9 602.2 1974.7 601.0 1977.4 599.7 1980.2 598.5 1982.9 597.2 1985.6 596.0 1988.4 594.7 1991.1 593.5 1993.9 592.3 1996.6 591.1 1999.4 589.8 2002.1 588.6 2004.9 587.4 2007.6 586.2 2010.4 585.0 2013.1 583.9 2015.9 582.7 2018.6 581.5 2021.4 580.4 2024.1 579.3 2026.9 578.1 2029.6 577.0 2032.4 576.0 2035.2 574.9 2037.9 573.8 2040.7 572.8 2043.5 571.8 2046.2 570.8 2049.0 569.8 2056.5 567.1" stroke="#000000"/>
<path d="M194.0 1009.4 L196.9 1002.0 198.1 999.2 199.3 996.4 200.6 993.7 202.0 991.1 203.5 988.5 205.1 985.9 206.8 983.4 208.6 981.0 210.4 978.7 212.3 976.4 214.3 974.1 216.4 972.0 218.5 969.9 220.8 967.8 223.0 965.9 225.4 964.0 227.8 962.2 230.2 960.5 232.7 958.8 235.3 957.3 237.9 955.8 240.6 954.4 243.3 953.0 246.0 951.8 248.8 950.7 251.6 949.6 254.5 948.7 257.3 947.8 260.3 947.0 263.2 946.3 266.1 945.8 269.1 945.3 272.1 944.9 275.1 944.6 278.1 944.3 281.1 944.2 284.2 944.2 287.2 944.2 290.2 944.4 293.2 944.6 296.3 944.9 299.3 945.3 302.2 945.8 305.2 946.4 308.2 947.0 311.1 947.8 314.0 948.6 316.9 949.5 319.7 950.5 322.5 951.5 325.3 952.7 328.0 953.9 330.7 955.2 333.4 956.6 336.0 958.0 338.5 959.6 341.1 961.1 343.6 962.8 346.0 964.5 348.4 966.3 350.8 968.1 353.1 970.0 355.4 972.0 357.6 974.0 359.8 976.1 361.9 978.2 364.0 980.4 366.0 982.6 368.0 984.9 369.9 987.2 371.8 989.6 373.6 992.0 375.4 994.4 377.1 996.9 378.7 999.4 380.3 1002.0 381.8 1004.6 383.3 1007.2 384.7 1009.8 386.1 1012.5 387.4 1015.2 388.7 1017.9 390.0 1020.6 391.2 1023.4 392.4 1026.2 393.5 1029.0 394.6 1031.8 395.7 1034.6 396.7 1037.4 397.8 1040.3 398.8 1043.1 399.8 1045.9 400.8 1048.8 401.8 1051.6 402.7 1054.5 403.7 1057.3 404.7 1060.1 405.6 1063.0 406.5 1065.8 407.5 1068.7 408.4 1071.5 409.3 1074.3 410.3 1077.2 411.2 1080.0 412.1 1082.8 413.0 1085.7 413.9 1088.5 414.8 1091.4 415.7 1094.2 416.6 1097.1 417.5 1099.9 418.4 1102.8 419.3 1105.6 420.2 1108.5 421.1 1111.3 422.1 1114.2 423.0 1117.0 423.9 1119.9 424.8 1122.8 425.7 1125.6 426.7 1128.5 427.6 1131.4 428.5 1134.3 429.5 1137.1 430.4 1140.0 431.4 1142.9 432.3 1145.7 433.2 1148.6 434.2 1151.5 435.1 1154.3 436.1 1157.2 437.0 1160.0 438.0 1162.8 438.9 1165.7 439.9 1168.5 440.8 1171.3 441.8 1174.1 442.7 1176.9 443.7 1179.7 444.6 1182.5 445.6 1185.2 446.5 1188.0 447.5 1190.8 448.5 1193.5 449.6 1196.4 450.8 1199.2 452.1 1202.1 453.5 1205.0 455.1 1207.9 456.9 1210.6 459.0 1213.2 461.3 1215.5 463.9 1217.5 466.5 1219.0 469.2 1219.9 471.8 1220.1 474.2 1219.6 476.5 1218.2 478.7 1216.3 480.8 1214.0 482.7 1211.4 484.6 1208.7 486.5 1206.0 488.3 1203.4 490.0 1200.9 491.7 1198.3 493.3 1195.7 494.9 1193.2 496.4 1190.6 497.8 1187.9 499.2 1185.3 500.5 1182.6 501.8 1179.9 503.0 1177.2 504.2 1174.5 505.4 1171.7 506.5 1169.0 507.6 1166.2 508.7 1163.4 509.9 1160.7 511.0 1157.9 512.1 1155.1 513.2 1152.4 514.3 1149.6 515.4 1146.8 516.5 1144.0 517.6 1141.2 518.7 1138.4 519.8 1135.7 520.9 1132.9 522.0 1130.1 523.1 1127.3 524.2 1124.5 525.4 1121.7 526.5 1119.0 527.6 1116.2 528.8 1113.4 529.9 1110.6 531.0 1107.9 532.2 1105.1 533.4 1102.3 534.5 1099.6 535.7 1096.8 536.9 1094.1 538.1 1091.3 539.3 1088.6 540.5 1085.8 541.7 1083.1 543.0 1080.3 544.2 1077.6 545.5 1074.9 546.8 1072.2 548.0 1069.5 549.4 1066.8 550.7 1064.1 552.0 1061.4 553.4 1058.7 554.7 1056.0 556.1 1053.3 557.5 1050.7 558.9 1048.0 560.3 1045.4 561.8 1042.8 563.3 1040.2 564.8 1037.6 566.3 1035.0 567.9 1032.4 569.5 1029.9 571.1 1027.4 572.8 1024.9 574.5 1022.4 576.2 1020.0 578.0 1017.6 579.8 1015.2 581.7 1012.9 583.6 1010.6 585.5 1008.3 587.5 1006.1 589.6 1003.9 591.7 1001.8 593.8 999.7 596.0 997.6 598.2 995.6 600.5 993.6 602.8 991.7 605.1 989.8 607.5 987.9 609.9 986.1 612.3 984.3 614.8 982.6 617.3 981.0 619.9 979.3 622.5 977.7 625.0 976.2 627.7 974.7 630.3 973.3 633.0 971.9 635.7 970.6 638.4 969.3 641.1 968.0 643.9 966.8 646.6 965.7 649.4 964.6 652.2 963.5 655.0 962.5 657.8 961.5 660.6 960.5 663.5 959.6 666.3 958.6 669.2 957.7 672.0 956.8 674.9 955.9 677.7 955.0 680.6 954.1 683.4 953.2 686.3 952.3 689.2 951.3 692.0 950.4 694.9 949.5 697.7 948.5 700.6 947.6 703.4 946.6 706.3 945.7 709.1 944.7 712.0 943.8 714.8 942.9 717.7 941.9 720.5 941.0 723.4 940.1 726.3 939.2 729.1 938.3 732.0 937.5 734.9 936.6 737.8 935.8 740.6 935.0 743.5 934.2 746.4 933.4 749.3 932.6 752.2 931.9 755.1 931.1 758.0 930.4 760.9 929.7 763.8 929.0 766.8 928.3 769.7 927.7 772.6 927.0 775.5 926.3 778.5 925.7 781.4 925.1 784.3 924.5 787.2 923.9 790.2 923.3 793.1 922.7 796.1 922.1 799.0 921.5 801.9 920.9 804.9 920.4 807.8 919.8 810.8 919.3 813.7 918.7 816.7 918.2 819.6 917.6 822.6 917.1 825.5 916.5 828.5 916.0 831.4 915.5 834.4 914.9 837.3 914.4 840.3 913.8 843.2 913.3 846.2 912.8 849.1 912.2 852.1 911.7 855.0 911.2 858.0 910.7 860.9 910.1 863.9 909.6 866.8 909.1 869.8 908.6 872.7 908.0 875.7 907.5 878.6 907.0 881.6 906.5 884.5 906.0 887.5 905.5 890.4 904.9 893.4 904.4 896.3 903.9 899.3 903.4 902.3 902.9 905.2 902.4 908.2 901.9 911.1 901.4 914.1 900.9 917.0 900.4 920.0 899.9 922.9 899.4 925.9 898.9 928.9 898.4 931.8 898.0 934.8 897.5 937.7 897.0 940.7 896.5 943.7 896.0 946.6 895.6 949.6 895.1 952.5 894.6 955.5 894.2 958.5 893.7 961.4 893.2 964.4 892.8 967.3 892.3 970.3 891.9 973.3 891.4 976.2 891.0 979.2 890.5 982.2 890.1 985.1 889.6 988.1 889.2 991.1 888.7 994.0 888.3 997.0 887.9 1000.0 887.5 1002.9 887.0 1005.9 886.6 1008.9 886.2 1011.8 885.8 1014.8 885.4 1017.8 885.0 1020.7 884.5 1023.7 884.1 1026.7 883.7 1029.7 883.3 1032.6 883.0 1035.6 882.6 1038.6 882.2 1041.6 881.8 1044.5 881.4 1047.5 881.0 1050.5 880.6 1053.5 880.2 1056.4 879.8 1059.4 879.4 1062.4 879.0 1065.3 878.6 1068.3 878.2 1071.3 877.8 1074.3 877.4 1077.2 877.0 1080.2 876.6 1083.2 876.2 1086.1 875.8 1089.1 875.4 1092.1 874.9 1095.0 874.5 1098.0 874.1 1100.9 873.6 1103.9 873.1 1106.9 872.7 1109.8 872.2 1112.8 871.7 1115.7 871.2 1118.7 870.7 1121.6 870.2 1124.6 869.7 1127.5 869.2 1130.5 868.8 1133.4 868.3 1136.4 867.9 1139.3 867.5 1142.3 867.1 1145.3 866.8 1148.2 866.4 1151.2 866.1 1154.2 865.9 1157.2 865.6 1160.2 865.4 1163.1 865.1 1166.1 864.9 1169.1 864.6 1172.1 864.4 1175.1 864.1 1178.1 863.8 1181.1 863.6 1184.0 863.3 1187.0 863.0 1190.0 862.7 1193.0 862.5 1196.0 862.2 1198.9 861.9 1201.9 861.6 1204.9 861.3 1207.9 861.0 1210.9 860.7 1213.9 860.4 1216.8 860.1 1219.8 859.7 1222.8 859.4 1225.8 859.1 1228.8 858.8 1231.7 858.5 1234.7 858.2 1237.7 857.9 1240.7 857.5 1243.7 857.2 1246.6 856.9 1249.6 856.6 1252.6 856.3 1255.6 856.0 1258.6 855.7 1261.5 855.3 1264.5 855.0 1267.5 854.7 1270.5 854.4 1273.5 854.1 1276.5 853.8 1279.4 853.5 1282.4 853.3 1285.4 853.0 1288.4 852.7 1291.4 852.4 1294.4 852.1 1297.3 851.8 1300.3 851.6 1303.3 851.3 1306.3 851.0 1309.3 850.8 1312.3 850.5 1315.3 850.2 1318.3 850.0 1321.2 849.7 1324.2 849.5 1327.2 849.2 1330.2 849.0 1333.2 848.7 1336.2 848.5 1339.2 848.2 1342.2 848.0 1345.1 847.8 1348.1 847.5 1351.1 847.3 1354.1 847.1 1357.1 846.8 1360.1 846.6 1363.1 846.4 1366.1 846.2 1369.1 846.0 1372.0 845.8 1375.0 845.6 1378.0 845.3 1381.0 845.1 1384.0 844.9 1387.0 844.7 1390.0 844.5 1393.0 844.4 1396.0 844.2 1399.0 844.0 1402.0 843.8 1405.0 843.6 1407.9 843.4 1410.9 843.2 1413.9 843.1 1416.9 842.9 1419.9 842.7 1422.9 842.6 1425.9 842.4 1428.9 842.2 1431.9 842.1 1434.9 841.9 1437.9 841.8 1440.9 841.6 1443.9 841.5 1446.9 841.3 1449.9 841.2 1452.9 841.0 1455.8 840.9 1458.8 840.7 1461.8 840.6 1464.8 840.5 1467.8 840.3 1470.8 840.2 1473.8 840.1 1476.8 840.0 1479.8 839.9 1482.8 839.7 1485.8 839.6 1488.8 839.5 1491.8 839.4 1494.8 839.3 1497.8 839.2 1500.8 839.1 1503.8 839.0 1506.8 838.9 1509.8 838.8 1512.8 838.7 1515.8 838.6 1518.8 838.5 1521.8 838.4 1524.8 838.3 1527.8 838.3 1530.8 838.2 1533.8 838.1 1536.7 838.0 1539.7 838.0 1542.7 837.9 1545.7 837.8 1548.7 837.8 1551.7 837.7 1554.7 837.6 1557.7 837.6 1560.7 837.5 1563.7 837.5 1566.7 837.4 1569.7 837.4 1572.7 837.3 1575.7 837.3 1578.7 837.2 1581.7 837.2 1584.7 837.2 1587.7 837.1 1590.7 837.1 1593.7 837.1 1596.7 837.0 1599.7 837.0 1602.7 837.0 1605.7 837.0 1608.7 837.0 1611.7 836.9 1614.7 836.9 1617.7 836.9 1620.7 836.9 1623.7 836.9 1626.7 836.9 1629.7 836.9 1632.7 836.9 1635.7 836.9 1638.7 836.9 1641.7 836.9 1644.7 836.9 1647.7 836.9 1650.7 836.9 1653.7 837.0 1656.7 837.0 1659.7 837.0 1662.6 837.0 1665.6 837.0 1668.6 837.1 1671.6 837.1 1674.6 837.1 1677.6 837.2 1680.6 837.2 1683.6 837.2 1686.6 837.3 1689.6 837.3 1692.6 837.3 1695.6 837.4 1698.6 837.4 1701.6 837.4 1704.6 837.5 1707.6 837.5 1710.6 837.5 1713.6 837.6 1716.6 837.6 1719.6 837.6 1722.6 837.6 1725.6 837.7 1728.6 837.7 1731.6 837.7 1734.6 837.7 1737.6 837.7 1740.6 837.8 1743.6 837.8 1746.6 837.8 1749.6 837.8 1752.6 837.8 1755.6 837.8 1758.6 837.8 1761.6 837.7 1764.6 837.7 1767.6 837.7 1770.6 837.7 1773.6 837.7 1776.6 837.6 1779.6 837.6 1782.6 837.5 1785.6 837.5 1788.6 837.4 1791.6 837.3 1794.6 837.3 1797.6 837.2 1800.6 837.1 1803.6 837.0 1806.6 836.8 1809.6 836.7 1812.6 836.6 1815.5 836.4 1818.5 836.2 1821.5 836.0 1824.5 835.8 1827.5 835.6 1830.5 835.4 1833.5 835.1 1836.4 834.9 1839.4 834.6 1842.4 834.3 1845.3 834.0 1848.3 833.6 1851.3 833.3 1854.2 832.9 1857.2 832.5 1860.1 832.0 1863.1 831.6 1866.0 831.1 1869.0 830.6 1871.9 830.0 1874.8 829.5 1877.8 828.9 1880.7 828.3 1883.6 827.7 1886.5 827.0 1889.4 826.3 1892.4 825.7 1895.3 824.9 1898.2 824.2 1901.1 823.5 1904.0 822.7 1906.9 821.9 1909.7 821.1 1912.6 820.3 1915.5 819.5 1918.4 818.6 1921.3 817.8 1924.2 816.9 1927.1 816.1 1929.9 815.2 1932.8 814.3 1935.7 813.4 1938.6 812.5 1941.4 811.6 1944.3 810.7 1947.2 809.8 1950.1 808.9 1952.9 808.0 1955.8 807.1 1958.7 806.2 1961.6 805.3 1964.5 804.4 1967.3 803.5 1970.2 802.6 1973.1 801.8 1976.0 800.9 1978.9 800.0 1981.7 799.2 1984.6 798.4 1987.5 797.5 1990.4 796.7 1993.3 795.9 1996.2 795.1 1999.1 794.3 2002.0 793.6 2004.9 792.9 2007.8 792.1 2010.7 791.4 2013.7 790.8 2016.6 790.1 2019.5 789.5 2022.4 788.9 2025.4 788.3 2028.3 787.7 2031.3 787.2 2034.2 786.7 2037.2 786.2 2040.1 785.7 2043.1 785.3 2046.0 784.9 2049.0 784.6 2057.0 783.6" stroke="#92CDDC"/>
<path d="M191.7 1210.8 L197.0 1204.7 198.9 1202.5 201.0 1200.4 203.2 1198.3 205.5 1196.3 208.0 1194.5 210.5 1192.7 213.2 1191.0 215.9 1189.6 218.7 1188.2 221.6 1187.1 224.5 1186.1 227.4 1185.3 230.4 1184.8 233.3 1184.5 236.3 1184.4 239.2 1184.6 242.1 1185.0 245.0 1185.6 247.9 1186.3 250.7 1187.1 253.5 1188.0 256.4 1188.9 259.2 1189.8 262.0 1190.8 264.8 1191.9 267.6 1193.0 270.3 1194.1 273.1 1195.3 275.8 1196.6 278.5 1197.8 281.2 1199.2 283.9 1200.5 286.6 1201.9 289.2 1203.3 291.9 1204.8 294.5 1206.3 297.1 1207.8 299.7 1209.3 302.3 1210.9 304.9 1212.5 307.5 1214.1 310.0 1215.8 312.5 1217.5 315.0 1219.2 317.5 1220.9 320.0 1222.6 322.4 1224.4 324.9 1226.2 327.3 1228.0 329.7 1229.8 332.0 1231.7 334.4 1233.6 336.7 1235.5 339.0 1237.5 341.3 1239.4 343.5 1241.4 345.7 1243.4 347.9 1245.4 350.1 1247.5 352.3 1249.6 354.4 1251.7 356.5 1253.8 358.5 1256.0 360.6 1258.2 362.6 1260.4 364.6 1262.6 366.5 1264.8 368.4 1267.1 370.3 1269.4 372.2 1271.8 374.0 1274.1 375.8 1276.5 377.5 1278.9 379.2 1281.3 380.9 1283.8 382.6 1286.2 384.2 1288.7 385.7 1291.3 387.3 1293.8 388.8 1296.4 390.2 1299.0 391.7 1301.6 393.1 1304.2 394.4 1306.9 395.7 1309.6 397.0 1312.3 398.3 1315.0 399.5 1317.8 400.7 1320.5 401.9 1323.3 403.1 1326.1 404.2 1328.8 405.4 1331.7 406.5 1334.5 407.6 1337.3 408.6 1340.1 409.7 1342.9 410.8 1345.8 411.8 1348.6 412.8 1351.5 413.8 1354.3 414.9 1357.1 415.9 1360.0 416.9 1362.8 417.9 1365.7 418.8 1368.5 419.8 1371.4 420.8 1374.2 421.8 1377.1 422.7 1379.9 423.7 1382.8 424.6 1385.6 425.6 1388.5 426.5 1391.3 427.4 1394.2 428.4 1397.0 429.3 1399.9 430.2 1402.7 431.1 1405.6 432.0 1408.4 432.9 1411.3 433.8 1414.2 434.7 1417.0 435.6 1419.9 436.5 1422.7 437.3 1425.6 438.2 1428.5 439.1 1431.3 439.9 1434.2 440.8 1437.1 441.7 1439.9 442.5 1442.8 443.3 1445.7 444.2 1448.5 445.0 1451.4 445.9 1454.3 446.7 1457.1 447.5 1460.0 448.3 1462.9 449.2 1465.8 450.0 1468.6 450.8 1471.5 451.6 1474.4 452.4 1477.3 453.2 1480.1 454.0 1483.0 454.8 1485.9 455.6 1488.8 456.4 1491.7 457.2 1494.6 458.0 1497.4 458.7 1500.3 459.5 1503.2 460.3 1506.1 461.1 1509.0 461.9 1511.9 462.6 1514.8 463.4 1517.7 464.2 1520.6 465.0 1523.5 465.7 1526.4 466.5 1529.3 467.3 1532.2 468.0 1535.1 468.8 1538.0 469.6 1540.9 470.3 1543.8 471.1 1546.7 471.8 1549.6 472.6 1552.5 473.4 1555.4 474.2 1558.3 475.0 1561.2 475.8 1564.0 476.7 1566.8 477.6 1569.7 478.5 1572.4 479.5 1575.2 480.5 1578.0 481.6 1580.8 482.8 1583.6 484.0 1586.5 485.3 1589.4 486.8 1592.4 488.3 1595.4 490.0 1598.5 491.7 1601.6 493.6 1604.6 495.5 1607.4 497.5 1609.9 499.6 1612.1 501.7 1613.9 503.9 1615.2 506.1 1615.9 508.3 1615.9 510.5 1615.3 512.7 1614.1 514.9 1612.4 517.1 1610.2 519.1 1607.8 521.1 1605.0 523.0 1602.0 524.7 1598.9 526.3 1595.8 527.8 1592.7 529.1 1589.6 530.2 1586.6 531.2 1583.7 532.2 1580.8 533.0 1577.9 533.8 1575.1 534.6 1572.2 535.4 1569.4 536.2 1566.6 537.0 1563.7 537.9 1560.9 538.7 1558.1 539.6 1555.2 540.5 1552.4 541.4 1549.5 542.3 1546.7 543.3 1543.8 544.2 1541.0 545.2 1538.1 546.2 1535.3 547.1 1532.4 548.1 1529.6 549.1 1526.7 550.1 1523.9 551.1 1521.0 552.1 1518.2 553.1 1515.3 554.1 1512.5 555.1 1509.7 556.1 1506.8 557.1 1504.0 558.1 1501.1 559.1 1498.3 560.0 1495.5 561.0 1492.7 562.0 1489.8 562.9 1487.0 563.8 1484.2 564.8 1481.4 565.7 1478.6 566.6 1475.7 567.5 1472.9 568.5 1470.1 569.4 1467.3 570.3 1464.5 571.2 1461.7 572.1 1458.9 573.1 1456.0 574.0 1453.2 575.0 1450.4 575.9 1447.6 576.9 1444.7 577.8 1441.9 578.8 1439.1 579.8 1436.2 580.8 1433.4 581.8 1430.5 582.8 1427.7 583.9 1424.9 584.9 1422.0 586.0 1419.2 587.1 1416.3 588.2 1413.5 589.3 1410.7 590.4 1407.9 591.5 1405.1 592.7 1402.3 593.9 1399.5 595.1 1396.7 596.3 1393.9 597.6 1391.1 598.8 1388.4 600.1 1385.6 601.4 1382.9 602.8 1380.2 604.1 1377.5 605.5 1374.8 606.9 1372.2 608.3 1369.5 609.8 1366.9 611.3 1364.3 612.8 1361.7 614.3 1359.1 615.9 1356.6 617.5 1354.0 619.1 1351.5 620.7 1349.0 622.4 1346.6 624.1 1344.2 625.9 1341.8 627.7 1339.4 629.5 1337.0 631.3 1334.7 633.2 1332.4 635.1 1330.1 637.1 1327.9 639.0 1325.7 641.1 1323.5 643.1 1321.4 645.2 1319.3 647.3 1317.2 649.4 1315.1 651.6 1313.1 653.8 1311.1 656.0 1309.1 658.3 1307.2 660.6 1305.2 662.9 1303.3 665.2 1301.4 667.5 1299.6 669.9 1297.7 672.3 1295.9 674.7 1294.1 677.1 1292.4 679.6 1290.6 682.0 1288.9 684.5 1287.2 687.0 1285.5 689.5 1283.8 692.1 1282.2 694.6 1280.5 697.2 1278.9 699.7 1277.3 702.3 1275.7 704.9 1274.2 707.5 1272.6 710.1 1271.1 712.7 1269.6 715.3 1268.0 718.0 1266.6 720.6 1265.1 723.2 1263.6 725.9 1262.2 728.6 1260.8 731.2 1259.5 733.9 1258.1 736.6 1256.9 739.3 1255.6 742.1 1254.4 744.8 1253.3 747.6 1252.2 750.4 1251.2 753.2 1250.3 756.0 1249.4 758.9 1248.6 761.8 1247.9 764.7 1247.2 767.6 1246.6 770.6 1246.1 773.5 1245.7 776.5 1245.3 779.5 1245.0 782.5 1244.6 785.5 1244.3 788.5 1244.0 791.5 1243.7 794.5 1243.3 797.5 1242.9 800.5 1242.5 803.4 1242.0 806.4 1241.5 809.3 1240.9 812.2 1240.2 815.1 1239.5 818.0 1238.8 820.8 1238.0 823.7 1237.1 826.5 1236.3 829.3 1235.4 832.2 1234.4 835.0 1233.4 837.8 1232.4 840.6 1231.4 843.3 1230.3 846.1 1229.2 848.9 1228.0 851.6 1226.9 854.4 1225.7 857.2 1224.5 859.9 1223.3 862.7 1222.1 865.4 1220.9 868.2 1219.7 870.9 1218.5 873.7 1217.3 876.5 1216.2 879.2 1215.0 882.0 1213.9 884.8 1212.9 887.6 1211.9 890.5 1210.9 893.3 1210.0 896.2 1209.1 899.0 1208.2 901.9 1207.5 904.8 1206.7 907.7 1206.0 910.6 1205.3 913.5 1204.6 916.4 1204.0 919.4 1203.4 922.3 1202.8 925.3 1202.3 928.2 1201.8 931.2 1201.3 934.1 1200.8 937.1 1200.3 940.1 1199.9 943.1 1199.5 946.0 1199.0 949.0 1198.6 952.0 1198.2 955.0 1197.8 958.0 1197.5 961.0 1197.1 964.0 1196.7 966.9 1196.3 969.9 1195.9 972.9 1195.5 975.9 1195.2 978.9 1194.8 981.8 1194.4 984.8 1193.9 987.8 1193.5 990.8 1193.1 993.7 1192.7 996.7 1192.2 999.6 1191.8 1002.6 1191.4 1005.6 1190.9 1008.5 1190.5 1011.5 1190.0 1014.4 1189.5 1017.4 1189.1 1020.3 1188.6 1023.3 1188.1 1026.2 1187.6 1029.2 1187.2 1032.1 1186.7 1035.1 1186.2 1038.0 1185.7 1041.0 1185.2 1043.9 1184.7 1046.9 1184.2 1049.9 1183.7 1052.8 1183.2 1055.8 1182.6 1058.7 1182.1 1061.7 1181.6 1064.6 1181.1 1067.6 1180.6 1070.5 1180.0 1073.5 1179.5 1076.4 1179.0 1079.4 1178.5 1082.4 1177.9 1085.3 1177.4 1088.3 1176.9 1091.2 1176.3 1094.2 1175.8 1097.1 1175.3 1100.1 1174.8 1103.0 1174.2 1106.0 1173.7 1108.9 1173.2 1111.9 1172.7 1114.8 1172.1 1117.8 1171.6 1120.7 1171.1 1123.6 1170.6 1126.6 1170.2 1129.6 1169.9 1132.5 1169.7 1135.5 1169.5 1138.5 1169.3 1141.5 1169.2 1144.5 1169.0 1147.5 1168.9 1150.5 1168.7 1153.5 1168.6 1156.5 1168.4 1159.5 1168.2 1162.5 1168.0 1165.4 1167.8 1168.4 1167.6 1171.4 1167.4 1174.4 1167.1 1177.4 1166.9 1180.4 1166.7 1183.4 1166.4 1186.3 1166.2 1189.3 1165.9 1192.3 1165.6 1195.3 1165.4 1198.3 1165.1 1201.2 1164.8 1204.2 1164.5 1207.2 1164.2 1210.2 1163.9 1213.2 1163.6 1216.1 1163.3 1219.1 1163.0 1222.1 1162.7 1225.1 1162.4 1228.0 1162.1 1231.0 1161.8 1234.0 1161.5 1237.0 1161.1 1239.9 1160.8 1242.9 1160.5 1245.9 1160.2 1248.9 1159.8 1251.8 1159.5 1254.8 1159.2 1257.8 1158.8 1260.8 1158.5 1263.7 1158.2 1266.7 1157.9 1269.7 1157.5 1272.7 1157.2 1275.7 1156.9 1278.6 1156.6 1281.6 1156.2 1284.6 1155.9 1287.6 1155.6 1290.6 1155.3 1293.5 1155.0 1296.5 1154.6 1299.5 1154.3 1302.5 1154.0 1305.5 1153.7 1308.5 1153.4 1311.4 1153.1 1314.4 1152.8 1317.4 1152.5 1320.4 1152.1 1323.4 1151.8 1326.4 1151.5 1329.3 1151.2 1332.3 1150.9 1335.3 1150.6 1338.3 1150.4 1341.3 1150.1 1344.3 1149.8 1347.3 1149.5 1350.3 1149.2 1353.2 1148.9 1356.2 1148.6 1359.2 1148.4 1362.2 1148.1 1365.2 1147.8 1368.2 1147.5 1371.2 1147.3 1374.2 1147.0 1377.2 1146.7 1380.1 1146.5 1383.1 1146.2 1386.1 1146.0 1389.1 1145.7 1392.1 1145.4 1395.1 1145.2 1398.1 1145.0 1401.1 1144.7 1404.1 1144.5 1407.1 1144.2 1410.1 1144.0 1413.1 1143.8 1416.1 1143.5 1419.0 1143.3 1422.0 1143.1 1425.0 1142.9 1428.0 1142.7 1431.0 1142.5 1434.0 1142.3 1437.0 1142.1 1440.0 1141.9 1443.0 1141.7 1446.0 1141.5 1449.0 1141.3 1452.0 1141.1 1455.0 1140.9 1458.0 1140.7 1461.0 1140.6 1464.0 1140.4 1467.0 1140.2 1469.9 1140.1 1472.9 1139.9 1475.9 1139.7 1478.9 1139.6 1481.9 1139.5 1484.9 1139.3 1487.9 1139.2 1490.9 1139.0 1493.9 1138.9 1496.9 1138.8 1499.9 1138.7 1502.9 1138.6 1505.9 1138.4 1508.9 1138.3 1511.9 1138.2 1514.9 1138.1 1517.9 1138.1 1520.9 1138.0 1523.9 1137.9 1526.9 1137.8 1529.9 1137.7 1532.9 1137.7 1535.9 1137.6 1538.9 1137.5 1541.8 1137.5 1544.8 1137.4 1547.8 1137.4 1550.8 1137.4 1553.8 1137.3 1556.8 1137.3 1559.8 1137.3 1562.8 1137.3 1565.8 1137.3 1568.8 1137.3 1571.8 1137.3 1574.8 1137.3 1577.8 1137.3 1580.8 1137.3 1583.8 1137.3 1586.8 1137.4 1589.8 1137.4 1592.8 1137.4 1595.8 1137.5 1598.8 1137.5 1601.7 1137.6 1604.7 1137.7 1607.7 1137.7 1610.7 1137.8 1613.7 1137.9 1616.7 1138.0 1619.7 1138.1 1622.7 1138.2 1625.7 1138.3 1628.7 1138.4 1631.7 1138.5 1634.7 1138.7 1637.7 1138.8 1640.7 1138.9 1643.6 1139.1 1646.6 1139.3 1649.6 1139.4 1652.6 1139.6 1655.6 1139.8 1658.6 1139.9 1661.6 1140.1 1664.6 1140.3 1667.6 1140.5 1670.6 1140.7 1673.5 1141.0 1676.5 1141.2 1679.5 1141.4 1682.5 1141.6 1685.5 1141.9 1688.5 1142.1 1691.5 1142.4 1694.5 1142.6 1697.4 1142.9 1700.4 1143.2 1703.4 1143.4 1706.4 1143.7 1709.4 1144.0 1712.4 1144.2 1715.4 1144.5 1718.4 1144.8 1721.3 1145.1 1724.3 1145.4 1727.3 1145.7 1730.3 1146.0 1733.3 1146.3 1736.3 1146.6 1739.3 1146.9 1742.2 1147.2 1745.2 1147.5 1748.2 1147.8 1751.2 1148.1 1754.2 1148.4 1757.2 1148.7 1760.2 1149.0 1763.1 1149.3 1766.1 1149.6 1769.1 1149.9 1772.1 1150.2 1775.1 1150.6 1778.1 1150.9 1781.1 1151.2 1784.0 1151.5 1787.0 1151.8 1790.0 1152.1 1793.0 1152.4 1796.0 1152.6 1799.0 1152.9 1802.0 1153.2 1804.9 1153.5 1807.9 1153.8 1810.9 1154.1 1813.9 1154.4 1816.9 1154.6 1819.9 1154.9 1822.9 1155.2 1825.8 1155.4 1828.8 1155.7 1831.8 1155.9 1834.8 1156.2 1837.8 1156.4 1840.8 1156.6 1843.8 1156.9 1846.8 1157.1 1849.7 1157.3 1852.7 1157.5 1855.7 1157.7 1858.7 1157.9 1861.7 1158.0 1864.7 1158.2 1867.7 1158.3 1870.7 1158.4 1873.7 1158.5 1876.6 1158.6 1879.6 1158.6 1882.6 1158.6 1885.6 1158.6 1888.6 1158.6 1891.6 1158.5 1894.6 1158.4 1897.5 1158.2 1900.5 1158.1 1903.5 1157.9 1906.5 1157.6 1909.4 1157.4 1912.4 1157.1 1915.4 1156.7 1918.3 1156.4 1921.3 1156.0 1924.3 1155.6 1927.2 1155.2 1930.2 1154.8 1933.2 1154.3 1936.1 1153.9 1939.1 1153.4 1942.1 1153.0 1945.0 1152.5 1948.0 1152.0 1951.0 1151.6 1954.0 1151.1 1956.9 1150.6 1959.9 1150.2 1962.9 1149.7 1965.9 1149.3 1968.9 1148.9 1971.9 1148.5 1974.8 1148.1 1977.8 1147.7 1980.8 1147.4 1983.8 1147.1 1986.8 1146.8 1989.8 1146.6 1992.8 1146.4 1995.7 1146.2 1998.7 1146.1 2001.7 1146.0 2004.7 1145.9 2007.7 1145.9 2010.6 1146.0 2013.6 1146.1 2016.6 1146.3 2019.5 1146.5 2022.5 1146.7 2025.5 1147.1 2028.4 1147.5 2031.4 1147.9 2034.3 1148.5 2037.3 1149.1 2040.2 1149.8 2043.2 1150.5 2046.1 1151.3 2049.0 1152.2 2056.7 1154.6" stroke="#558ED5"/>
</g>
<g fill="none" stroke-width="18" stroke-linecap="round">
<line x1="337.5" y1="131" x2="498" y2="131" stroke="#C00000"/>
<line x1="922.8" y1="131" x2="1082.1" y2="131" stroke="#FAC090"/>
<line x1="1507.1" y1="131" x2="1666.9" y2="131" stroke="#000000"/>
<line x1="337.5" y1="233" x2="498" y2="233" stroke="#92CDDC"/>
<line x1="922.8" y1="233" x2="1082.1" y2="233" stroke="#558ED5"/>
</g>
<text x="515.9" y="151.3" font-size="64.0" textLength="211.4" lengthAdjust="spacingAndGlyphs">l-PUR A</text>
<text x="1101.2" y="151.0" font-size="64.0" textLength="210.6" lengthAdjust="spacingAndGlyphs">l-PUR B</text>
<text x="1685.5" y="151.0" font-size="64.0" textLength="231.1" lengthAdjust="spacingAndGlyphs">b-PUR C</text>
<text x="515.9" y="253.2" font-size="64.0" textLength="235.8" lengthAdjust="spacingAndGlyphs">b-PUR D</text>
<text x="1101.2" y="253.3" font-size="64.0" textLength="225.3" lengthAdjust="spacingAndGlyphs">b-PUR E</text>
<text x="157.0" y="1852.0" font-size="75.5" textLength="82.0" lengthAdjust="spacingAndGlyphs">25</text>
<text x="646.0" y="1852.0" font-size="75.5" textLength="77.0" lengthAdjust="spacingAndGlyphs">75</text>
<text x="1107.0" y="1852.0" font-size="75.5" textLength="124.3" lengthAdjust="spacingAndGlyphs">125</text>
<text x="1591.0" y="1852.0" font-size="75.5" textLength="126.9" lengthAdjust="spacingAndGlyphs">175</text>
<text x="978.0" y="1926.0" font-size="73.0" font-weight="bold" textLength="589.2" lengthAdjust="spacingAndGlyphs">temperature [°C]</text>
<text transform="translate(153.0 1209.0) rotate(-90)" x="0" y="0" font-size="75.6" font-weight="bold" textLength="548.0" lengthAdjust="spacingAndGlyphs">heat flow [J/gK]</text>
<text transform="translate(149.8 369.5) rotate(-90)" x="0" y="0" font-size="77.0" style="font-family:'Liberation Serif','Times New Roman',serif" textLength="166.5" lengthAdjust="spacingAndGlyphs">endo</text>
<g stroke="#000" fill="none">
<line x1="153.5" y1="200" x2="157.5" y2="428" stroke-width="7" stroke-linecap="butt"/>
<polyline points="127,378 157.6,431 186.2,376" stroke-width="7.5" stroke-linecap="round" stroke-linejoin="round"/>
</g>
</svg>
</body></html>
